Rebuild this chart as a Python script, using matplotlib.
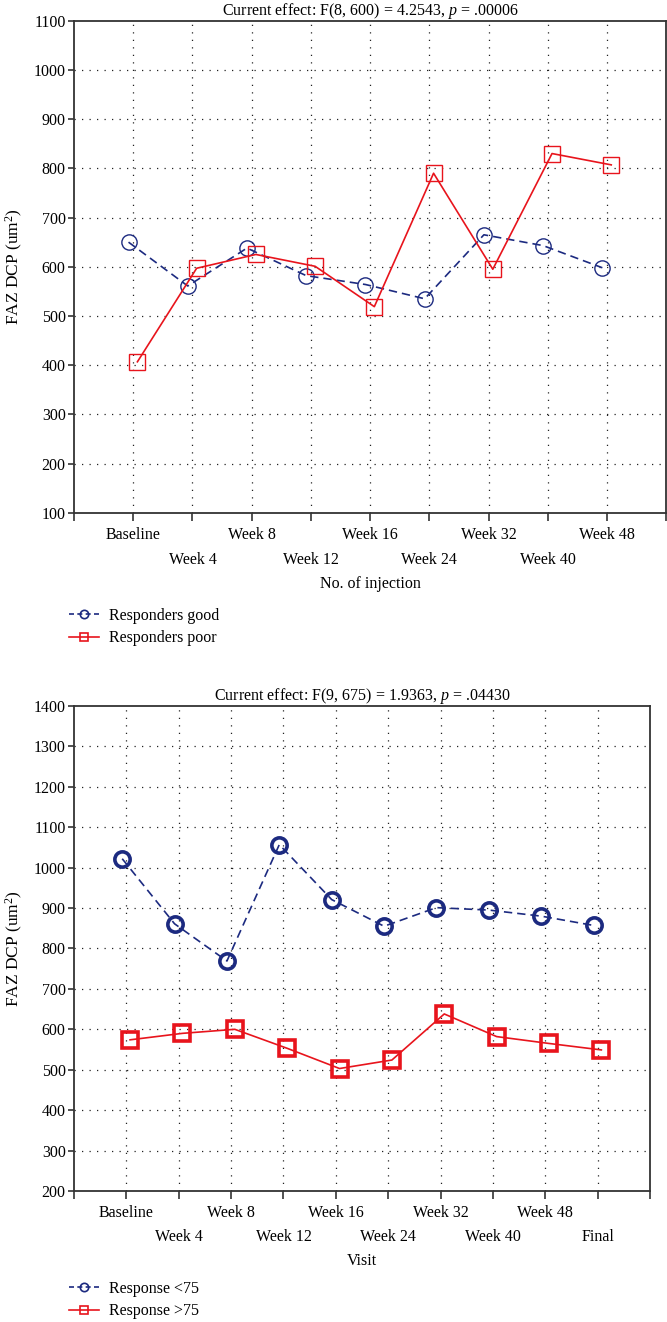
import numpy as np
import matplotlib
matplotlib.use("Agg")
import matplotlib.pyplot as plt

plt.rcParams['font.family'] = ['Liberation Serif', 'DejaVu Serif']
plt.rcParams['mathtext.fontset'] = 'custom'
plt.rcParams['mathtext.rm'] = 'Liberation Serif'
plt.rcParams['mathtext.it'] = 'Liberation Serif:italic'

# top panel: no. of injection
inj_labels = ['Baseline', 'Week 4', 'Week 8', 'Week 12', 'Week 16',
              'Week 24', 'Week 32', 'Week 40', 'Week 48']
resp_good = [650, 561, 638, 582, 564, 535, 665, 643, 598]
resp_poor = [407, 597, 625, 601, 519, 790, 595, 830, 807]

# bottom panel: visit
visit_labels = ['Baseline', 'Week 4', 'Week 8', 'Week 12', 'Week 16',
                'Week 24', 'Week 32', 'Week 40', 'Week 48', 'Final']
resp_lt75 = [1022, 861, 769, 1057, 921, 855, 901, 895, 880, 857]
resp_gt75 = [574, 590, 600, 553, 503, 524, 638, 582, 565, 549]

BLUE = '#1c2a80'
RED = '#e8141c'
GRIDC = '#222222'


def draw_panel(ax, labels, ya, yb, ylim, title, xlabel, names, thick, leg_y):
    n = len(labels)
    x = np.arange(1, n + 1)
    mew = 2.6 if thick else 1.0
    lw = 1.2
    ax.plot(x - 0.08, ya, color=BLUE, ls=(0, (5, 3)), lw=lw, marker='o',
            ms=11, mfc='none', mec=BLUE, mew=mew, zorder=3)
    ax.plot(x + 0.07, yb, color=RED, ls='-', lw=lw, marker='s',
            ms=11, mfc='none', mec=RED, mew=mew, zorder=3)
    ax.set_xlim(0, n + 1)
    ax.set_ylim(*ylim)
    ax.set_yticks(np.arange(ylim[0], ylim[1] + 1, 100))
    ax.set_xticks(np.arange(0, n + 2))
    ax.set_xticklabels([])
    for v in np.arange(ylim[0] + 100, ylim[1], 100):
        ax.axhline(v, color=GRIDC, ls=(0, (1, 5)), lw=0.9, zorder=1)
    for xi in x:
        ax.axvline(xi, color=GRIDC, ls=(0, (1, 5)), lw=0.9, zorder=1)
    # alternating two-row category labels
    for i, lab in enumerate(labels):
        dy = -0.045 if i % 2 == 0 else -0.095
        ax.text(x[i], dy, lab, transform=ax.get_xaxis_transform(),
                ha='center', va='center', fontsize=11.5)
    ax.text(0.5 * (n + 1), -0.145, xlabel, transform=ax.get_xaxis_transform(),
            ha='center', va='center', fontsize=11.5)
    ax.set_title(title, fontsize=11.5, pad=4)
    ax.set_ylabel('FAZ DCP (um$^2$)', fontsize=12.5, labelpad=6)
    ax.tick_params(axis='x', direction='out', length=6, width=1.2, color='#333333')
    ax.tick_params(axis='y', direction='out', length=4, width=1.2, color='#333333',
                   labelsize=11.5, pad=2)
    for s in ax.spines.values():
        s.set_color('#333333')
        s.set_linewidth(1.3)
    h1, = ax.plot([], [], color=BLUE, ls=(0, (3, 2)), lw=1.2, marker='o', ms=6,
                  mfc='none', mec=BLUE, mew=1.2)
    h2, = ax.plot([], [], color=RED, ls='-', lw=1.2, marker='s', ms=6,
                  mfc='none', mec=RED, mew=1.2)
    ax.legend([h1, h2], names, loc='upper left', bbox_to_anchor=(-0.02, leg_y),
              frameon=False, fontsize=11.5, handlelength=1.9, handletextpad=0.6,
              labelspacing=0.4, borderaxespad=0)


fig = plt.figure(figsize=(6.67, 13.22), dpi=100)
ax1 = fig.add_axes([0.111, 0.612, 0.888, 0.3724])
ax2 = fig.add_axes([0.111, 0.0991, 0.8636, 0.3669])

draw_panel(ax1, inj_labels, resp_good, resp_poor, (100, 1100),
           'Current effect: F(8, 600) = 4.2543, $\\mathit{p}$ = .00006',
           'No. of injection', ['Responders good', 'Responders poor'], False, -0.18)
draw_panel(ax2, visit_labels, resp_lt75, resp_gt75, (200, 1400),
           'Current effect: F(9, 675) = 1.9363, $\\mathit{p}$ = .04430',
           'Visit', ['Response <75', 'Response >75'], True, -0.172)

fig.savefig('out.png', dpi=100)
